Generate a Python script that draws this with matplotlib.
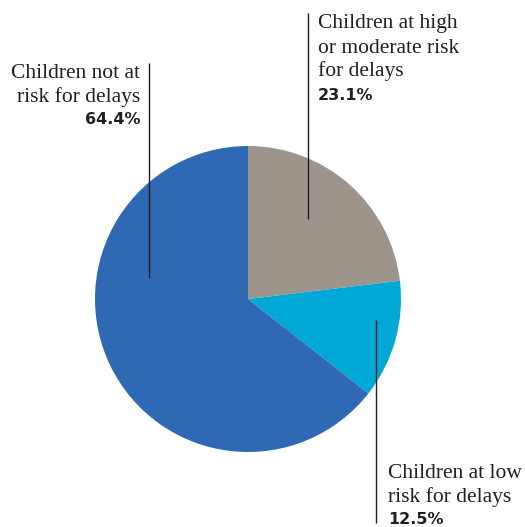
import matplotlib
matplotlib.use("Agg")
import matplotlib.pyplot as plt

W, H = 525, 527

# slices in clockwise order from 12 o'clock
labels = [
    ["Children at high", "or moderate risk", "for delays"],
    ["Children at low", "risk for delays"],
    ["Children not at", "risk for delays"],
]
shares = [23.1, 12.5, 64.4]
colors = ["#9d958b", "#00a9d5", "#2f68b3"]

SERIF = ["Liberation Serif", "DejaVu Serif"]
SANS = ["DejaVu Sans"]
INK = "#231f20"


def y(py):
    # pixel row (top-down) -> data y
    return H - py


fig = plt.figure(figsize=(W / 100, H / 100), dpi=100)
ax = fig.add_axes([0, 0, 1, 1])

ax.pie(shares, colors=colors, startangle=90, counterclock=False,
       center=(248, y(299)), radius=153, frame=True,
       wedgeprops=dict(linewidth=0))
ax.set_xlim(0, W)
ax.set_ylim(0, H)
ax.set_aspect("equal")
ax.axis("off")

# leader lines: x, top, bottom (pixel rows)
leaders = [(308, 13, 219), (376, 320, 523), (149, 63, 278)]
for lx, top, bot in leaders:
    ax.plot([lx, lx], [y(top), y(bot)], color=INK, linewidth=1.0, solid_capstyle="butt")

# label blocks: anchor x, alignment, baselines of each text line, baseline of the share
blocks = [
    (318, "left", [28, 53, 76], 100),
    (388, "left", [478, 502], 524),
    (140, "right", [78, 102], 124),
]
for (tx, ha, rows, pct_row), lines, share in zip(blocks, labels, shares):
    for line, row in zip(lines, rows):
        ax.text(tx, y(row), line, ha=ha, va="baseline", fontsize=15.5,
                family=SERIF, color=INK)
    ax.text(tx, y(pct_row), f"{share:.1f}%", ha=ha, va="baseline", fontsize=11.5,
            family=SANS, fontweight="bold", color=INK)

fig.savefig("out.png", dpi=100)
